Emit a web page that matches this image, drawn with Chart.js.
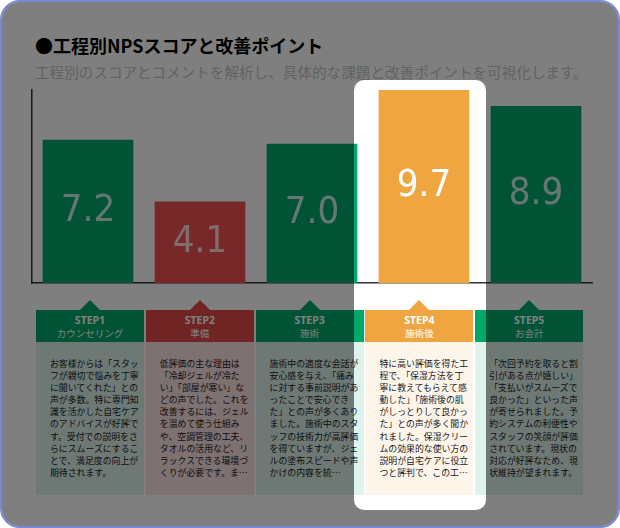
<!DOCTYPE html>
<html><head><meta charset="utf-8">
<script src="https://cdn.jsdelivr.net/npm/chart.js@4.4.0/dist/chart.umd.min.js"></script>
<style>
body{margin:0;background:#fff;font-family:"Noto Sans CJK JP","Noto Sans",sans-serif;}
#card{position:absolute;left:0;top:0;width:616px;height:524px;border:2px solid #7b86d8;border-radius:20px;overflow:hidden;background:#fff;}
#title{position:absolute;left:33px;top:30px;font-size:18px;font-weight:700;color:#000;}
#sub{position:absolute;left:33px;top:59px;font-size:14.6px;color:#c4c4c4;white-space:nowrap;}
#cw{position:absolute;left:20px;top:74px;width:580px;height:223px;}
.col{position:absolute;top:298px;width:108px;}
.tri{position:absolute;left:44px;top:0;width:0;height:0;border-left:10px solid transparent;border-right:10px solid transparent;border-bottom:10px solid;}
.hd{position:absolute;top:10px;left:0;width:108px;height:32px;color:#fff;text-align:center;}
.hd .s{font-size:10.5px;font-weight:700;line-height:13px;margin-top:4px;font-family:"Noto Sans",sans-serif;}
.hd .n{font-size:9.5px;line-height:13px;}
.bd{position:absolute;top:42px;left:0;width:108px;height:153px;box-sizing:border-box;padding:16px 3px 0 14px;font-size:8.9px;line-height:12.1px;color:#1a1a1a;word-break:break-all;}
#spot{position:absolute;left:352px;top:78px;width:132px;height:430px;border-radius:10px;box-shadow:0 0 0 2000px rgba(0,0,0,0.5);z-index:5;}
</style></head><body>
<div id="card">
<div id="title">●工程別NPSスコアと改善ポイント</div>
<div id="sub">工程別のスコアとコメントを解析し、具体的な課題と改善ポイントを可視化します。</div>
<div id="cw"><canvas id="c"></canvas></div>
<div id="cols"></div>
<div id="spot"></div>
</div>
<script>
const steps=["STEP1","STEP2","STEP3","STEP4","STEP5"];
const names=["カウンセリング","準備","施術","施術後","お会計"];
const scores=[7.2,4.1,7.0,9.7,8.9];
const comments=[
"お客様からは「スタッフが親切で悩みを丁寧に聞いてくれた」との声が多数。特に専門知識を活かした自宅ケアのアドバイスが好評です。受付での説明をさらにスムーズにすることで、満足度の向上が期待されます。",
"低評価の主な理由は「冷却ジェルが冷たい」「部屋が寒い」などの声でした。これを改善するには、ジェルを温めて使う仕組みや、空調管理の工夫、タオルの活用など、リラックスできる環境づくりが必要です。ま…",
"施術中の適度な会話が安心感を与え、「痛みに対する事前説明があったことで安心できた」との声が多くありました。施術中のスタッフの技術力が高評価を得ていますが、ジェルの塗布スピードや声かけの内容を統…",
"特に高い評価を得た工程で、「保湿方法を丁寧に教えてもらえて感動した」「施術後の肌がしっとりして良かった」との声が多く聞かれました。保湿クリームの効果的な使い方の説明が自宅ケアに役立つと評判で、この工…",
"「次回予約を取ると割引がある点が嬉しい」「支払いがスムーズで良かった」といった声が寄せられました。予約システムの利便性やスタッフの笑顔が評価されています。現状の対応が好評なため、現状維持が望まれます。"];
const barColors=["#00a86b","#f05050","#00a86b","#f0a640","#00a86b"];
const hdColors=["#00a86b","#e04848","#00a86b","#f0a640","#00a86b"];
const bdColors=["#ddf3ec","#fbe2e2","#ddf3ec","#fdf5ea","#ddf3ec"];
const colsEl=document.getElementById('cols');
steps.forEach((s,i)=>{
  const d=document.createElement('div');d.className='col';d.style.left=(34+i*109.8)+'px';
  d.innerHTML=`<div class="tri" style="border-bottom-color:${hdColors[i]}"></div><div class="hd" style="background:${hdColors[i]}"><div class="s">${s}</div><div class="n">${names[i]}</div></div><div class="bd" style="background:${bdColors[i]}">${comments[i]}</div>`;
  colsEl.appendChild(d);
});
const labelPlugin={id:'lbl',afterDatasetsDraw(ch){const ctx=ch.ctx;const m=ch.getDatasetMeta(0);ctx.save();ctx.font='38px "DejaVu Sans Condensed", Roboto, sans-serif';ctx.textAlign='center';ctx.textBaseline='middle';
 m.data.forEach((b,i)=>{ctx.fillStyle=i===3?'#fff':'rgba(255,255,255,0.8)';const y=(b.y+b.base)/2;ctx.fillText(scores[i].toFixed(1),b.x,y);});ctx.restore();}};
new Chart(document.getElementById('c'),{type:'bar',
 data:{labels:steps,datasets:[{data:scores,backgroundColor:barColors,barPercentage:0.81,categoryPercentage:1}]},
 options:{responsive:true,maintainAspectRatio:false,animation:false,
  layout:{padding:{left:2,right:10,top:14,bottom:8}},
  plugins:{legend:{display:false},tooltip:{enabled:false}},
  scales:{x:{ticks:{display:false},grid:{display:false},border:{color:'#333',width:1.5}},
          y:{min:0,max:9.7,ticks:{display:false},grid:{display:false},border:{color:'#333',width:1.5}}}},
 plugins:[labelPlugin]});
</script></body></html>
